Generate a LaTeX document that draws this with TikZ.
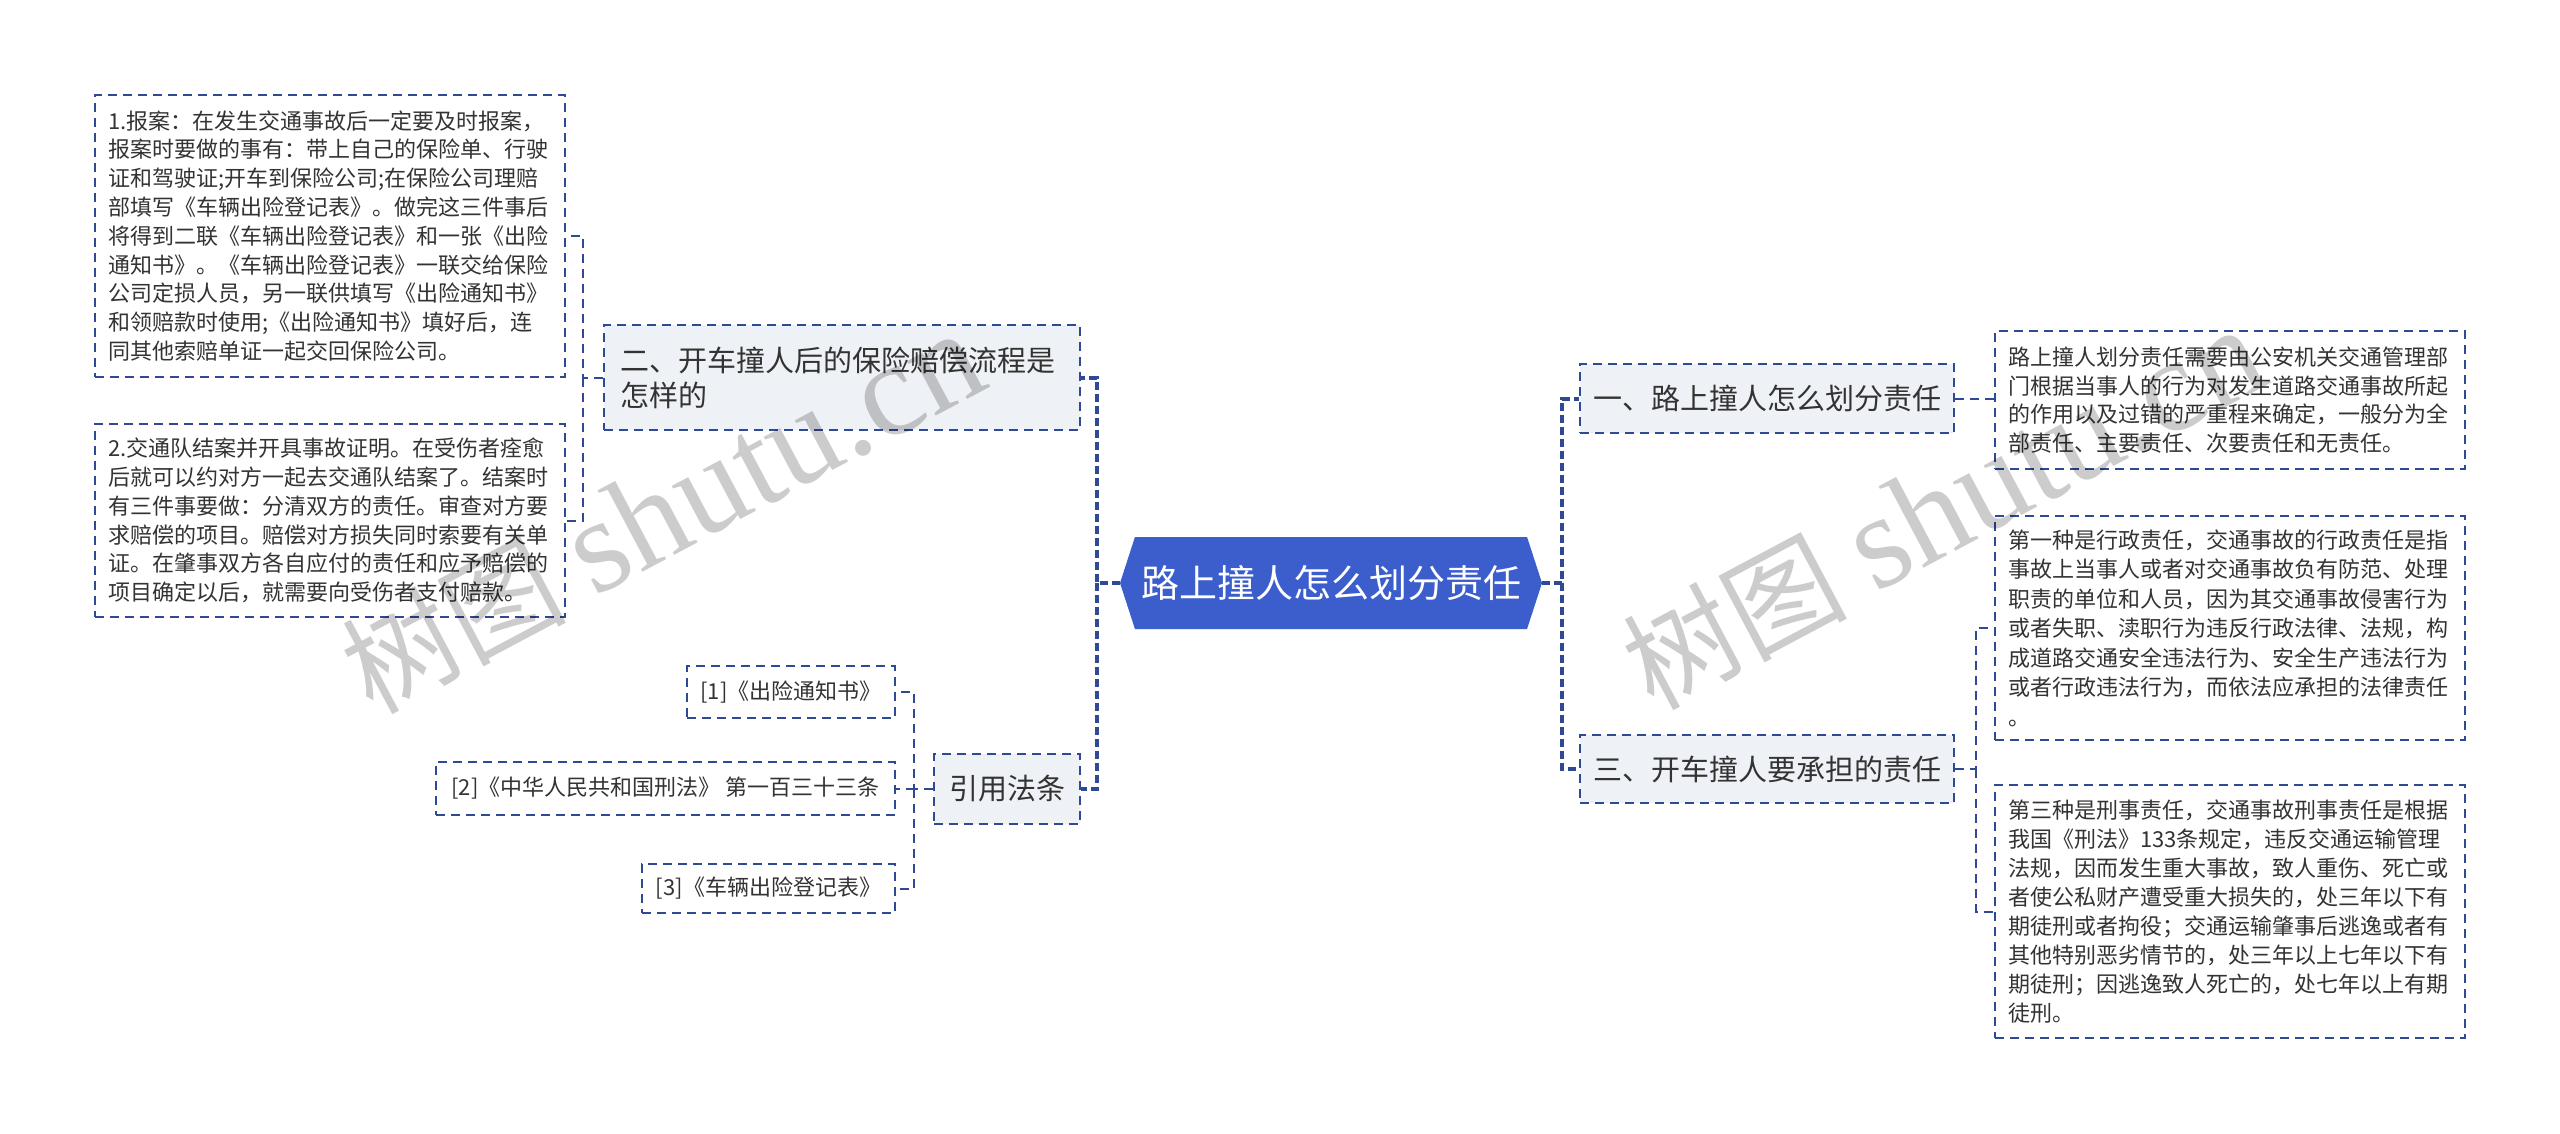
\documentclass[tikz,border=0pt]{standalone}
\usepackage{fontspec}
\setmainfont{Noto Sans CJK SC}
\newfontfamily\wmlatin{Liberation Serif}
\usetikzlibrary{shapes.symbols}
\definecolor{lc}{HTML}{2F4A94}
\definecolor{rootfill}{HTML}{3C5ECD}
\definecolor{lvlfill}{HTML}{EEF1F5}
\definecolor{tc}{HTML}{333333}
\tikzset{
  boxline/.style={draw=lc, line width=2pt, dash pattern=on 9pt off 6pt},
  leaf/.style={boxline, fill=white, inner xsep=13pt, inner ysep=0pt, align=left, text=tc,
    font=\fontsize{22}{28.8}\selectfont},
  cit/.style={boxline, fill=white, inner sep=0pt, text=tc, font=\fontsize{22}{28}\selectfont},
  lvl/.style={boxline, fill=lvlfill, inner sep=0pt, text=tc, font=\fontsize{29}{35}\selectfont},
  rootnode/.style={signal, signal to=west and east, signal pointer angle=144, fill=rootfill,
    text=white, inner sep=0pt, minimum width=422pt, minimum height=92pt,
    font=\fontsize{38}{40}\selectfont},
  link/.style={draw=lc, line width=2pt, dash pattern=on 9pt off 6pt},
  rlink/.style={draw=lc, line width=4pt, dash pattern=on 8pt off 4pt},
  wm/.style={text=black, text opacity=0.2, inner sep=0pt}
}
\begin{document}
\begin{tikzpicture}[x=1pt,y=-1pt]
\useasboundingbox (0,0) rectangle (2560,1133);
\fill[white] (0,0) rectangle (2560,1133);

% root
\node[rootnode] (root) at (1331,583) {路上撞人怎么划分责任};

% left side
\node[lvl, text width=444pt, inner xsep=16pt, minimum height=105pt, align=left] (b2) at (842,377.5)
  {二、开车撞人后的保险赔偿流程是\\怎样的};
\node[leaf, text width=444pt, minimum height=282pt] (l1) at (330,236)
  {1.报案：在发生交通事故后一定要及时报案，\\
   报案时要做的事有：带上自己的保险单、行驶\\
   证和驾驶证;开车到保险公司;在保险公司理赔\\
   部填写《车辆出险登记表》。做完这三件事后\\
   将得到二联《车辆出险登记表》和一张《出险\\
   通知书》。《车辆出险登记表》一联交给保险\\
   公司定损人员，另一联供填写《出险通知书》\\
   和领赔款时使用;《出险通知书》填好后，连\\
   同其他索赔单证一起交回保险公司。};
\node[leaf, text width=444pt, minimum height=193pt] (l2) at (330,520.5)
  {2.交通队结案并开具事故证明。在受伤者痊愈\\
   后就可以约对方一起去交通队结案了。结案时\\
   有三件事要做：分清双方的责任。审查对方要\\
   求赔偿的项目。赔偿对方损失同时索要有关单\\
   证。在肇事双方各自应付的责任和应予赔偿的\\
   项目确定以后，就需要向受伤者支付赔款。};
\node[lvl, minimum width=146pt, minimum height=70pt] (cite) at (1007,789) {引用法条};
\node[cit, minimum width=208pt, minimum height=52pt] (c1) at (791,692) {[1]《出险通知书》};
\node[cit, minimum width=459pt, minimum height=53pt] (c2) at (665.5,788.5) {[2]《中华人民共和国刑法》 第一百三十三条};
\node[cit, minimum width=253pt, minimum height=49pt] (c3) at (768.5,888.5) {[3]《车辆出险登记表》};

% right side
\node[lvl, minimum width=374pt, minimum height=69pt] (b1) at (1767,398.5) {一、路上撞人怎么划分责任};
\node[lvl, minimum width=374pt, minimum height=68pt] (b3) at (1767,769) {三、开车撞人要承担的责任};
\node[leaf, text width=444pt, minimum height=138pt] (r1) at (2230,400)
  {路上撞人划分责任需要由公安机关交通管理部\\
   门根据当事人的行为对发生道路交通事故所起\\
   的作用以及过错的严重程来确定，一般分为全\\
   部责任、主要责任、次要责任和无责任。};
\node[leaf, text width=444pt, minimum height=224pt, font=\fontsize{22}{29.5}\selectfont] (r2) at (2230,628)
  {第一种是行政责任，交通事故的行政责任是指\\
   事故上当事人或者对交通事故负有防范、处理\\
   职责的单位和人员，因为其交通事故侵害行为\\
   或者失职、渎职行为违反行政法律、法规，构\\
   成道路交通安全违法行为、安全生产违法行为\\
   或者行政违法行为，而依法应承担的法律责任\\
   。};
\node[leaf, text width=444pt, minimum height=253pt, font=\fontsize{22}{29}\selectfont] (r3) at (2230,911.5)
  {第三种是刑事责任，交通事故刑事责任是根据\\
   我国《刑法》133条规定，违反交通运输管理\\
   法规，因而发生重大事故，致人重伤、死亡或\\
   者使公私财产遭受重大损失的，处三年以下有\\
   期徒刑或者拘役；交通运输肇事后逃逸或者有\\
   其他特别恶劣情节的，处三年以上七年以下有\\
   期徒刑；因逃逸致人死亡的，处七年以上有期\\
   徒刑。};

% connectors
\coordinate (jL) at (1097,583);
\draw[rlink] (root.west) -- (jL) |- (b2.east);
\draw[rlink] (jL) |- (cite.east);
\coordinate (j2) at (583,377.5);
\draw[link] (b2.west) -- (j2) |- (l1.east);
\draw[link] (j2) |- (l2.east);
\coordinate (jc) at (914,789);
\draw[link] (cite.west) -- (jc) |- (c1.east);
\draw[link] (jc) |- (c2.east);
\draw[link] (jc) |- (c3.east);

\coordinate (jR) at (1562,583);
\draw[rlink] (root.east) -- (jR) |- (b1.west);
\draw[rlink] (jR) |- (b3.west);
\draw[link] (b1.east) -- (r1.west |- b1.east);
\coordinate (j3) at (1976,769);
\draw[link] (b3.east) -- (j3) |- (r2.west);
\draw[link] (j3) |- (r3.west);

% watermarks
\node[wm, anchor=base west, rotate=28] (w1) at (372,716)
  {\fontsize{112}{112}\selectfont 树图\hspace{28pt}{\wmlatin\fontsize{134}{134}\selectfont shutu.cn}};
\node[wm, anchor=base west, rotate=28] (w2) at (1653,712)
  {\fontsize{112}{112}\selectfont 树图\hspace{28pt}{\wmlatin\fontsize{134}{134}\selectfont shutu.cn}};
\end{tikzpicture}
\end{document}
